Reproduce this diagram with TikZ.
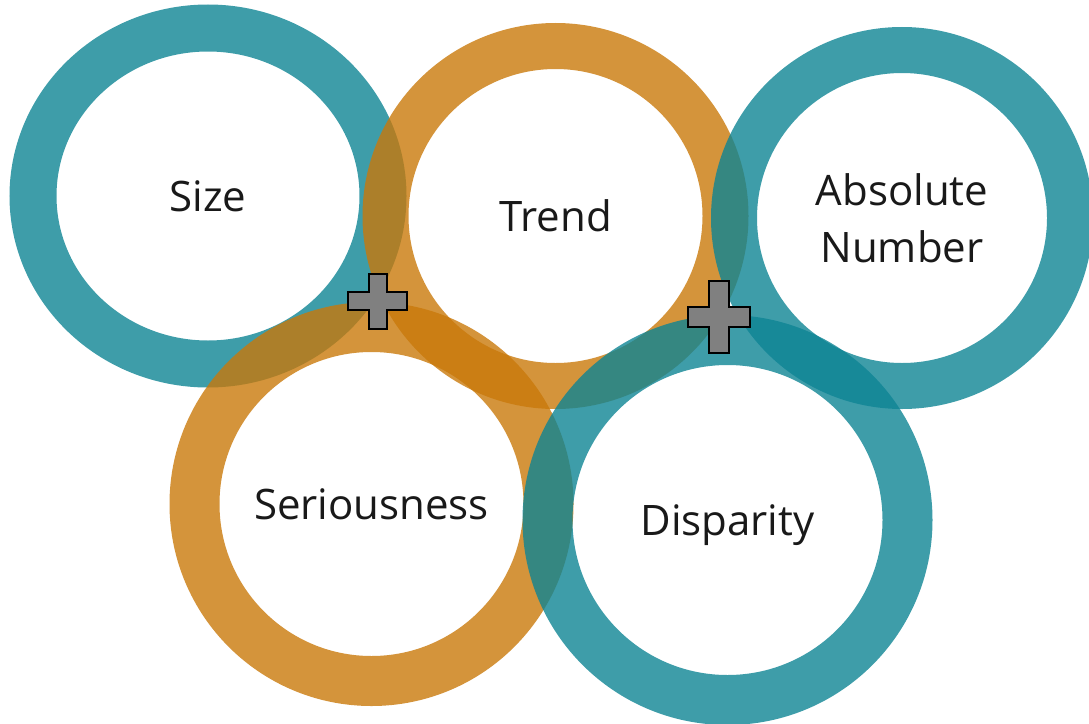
\documentclass[tikz,border=0pt]{standalone}
\usepackage{fontspec}
\setmainfont{Open Sans}
\usetikzlibrary{shapes.geometric}
\definecolor{ringteal}{RGB}{14,132,148}
\definecolor{ringorange}{RGB}{201,121,10}
\definecolor{plusgray}{RGB}{128,128,128}
\tikzset{
	ring/.style={circle, draw=#1, draw opacity=0.8, inner sep=0, text=black!90, font=\fontsize{42}{57}\selectfont},
	oneline/.style={text height=30pt, text depth=0pt},
	plusmark/.style={fill=plusgray, draw=black, line width=2.5, line join=miter},
}
\begin{document}
\begin{tikzpicture}[x=1pt, y=-1pt]
			\useasboundingbox (0,0) rectangle (1089,723);
			\node (size) [ring=ringteal, ellipse, oneline, line width=47, minimum width=350, minimum height=336] at (208,196) {Size};
			\node (trend) [ring=ringorange, oneline, line width=46, minimum size=340] at (555.5,216) {Trend};
			\node (seriousness) [ring=ringorange, oneline, line width=50, minimum size=354] at (371.5,504) {Seriousness};
			\node (absolute) [ring=ringteal, align=center, line width=46, minimum size=336] at (902,218) {Absolute\\Number};
			\node (disparity) [ring=ringteal, oneline, line width=50, minimum size=360] at (727.5,520) {Disparity};
			% plus signs
			\draw[plusmark] (369,274) -- (387,274) -- (387,292) -- (407,292) -- (407,310) -- (387,310) -- (387,329) -- (369,329) -- (369,310) -- (348,310) -- (348,292) -- (369,292) -- cycle;
			\draw[plusmark] (709,281) -- (729,281) -- (729,307) -- (750,307) -- (750,327) -- (729,327) -- (729,353) -- (709,353) -- (709,327) -- (688,327) -- (688,307) -- (709,307) -- cycle;
		\end{tikzpicture}
\end{document}
